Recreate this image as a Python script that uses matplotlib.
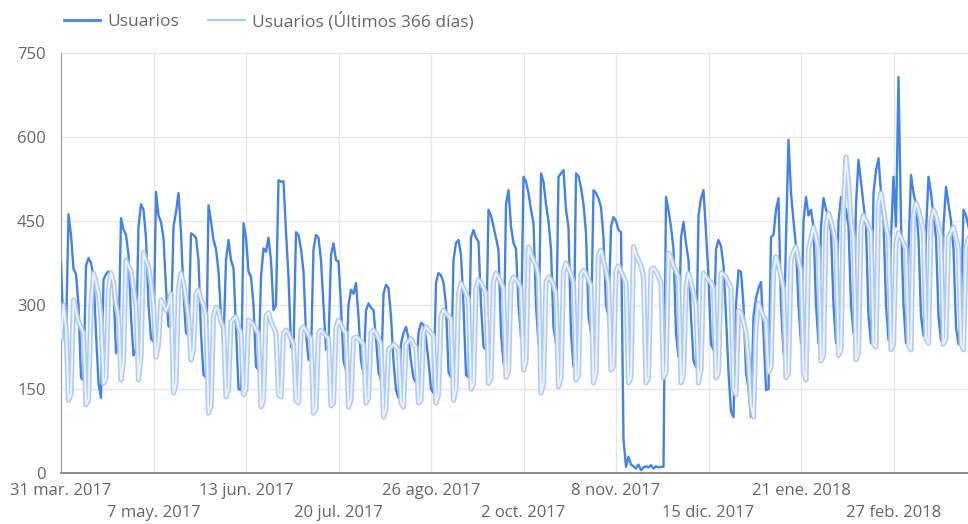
import matplotlib

matplotlib.use("Agg")

import matplotlib.pyplot as plt
import matplotlib.patheffects as pe
from matplotlib.lines import Line2D
import pandas as pd

plt.rcParams["font.family"] = ["Open Sans", "DejaVu Sans"]

START = "2017-03-31"

# Usuarios diarios (31 mar. 2017 -> 30 mar. 2018), una fila por semana (lun..dom)
usuarios = [
    375, 250, 245,
    462, 425, 365, 355, 300, 170, 166,
    370, 384, 375, 350, 250, 160, 134,
    345, 355, 360, 357, 330, 214, 230,
    455, 435, 425, 390, 280, 210, 220,
    440, 480, 470, 420, 300, 240, 234,
    502, 460, 448, 420, 330, 262, 260,
    440, 466, 500, 430, 320, 250, 246,
    428, 425, 420, 380, 250, 175, 171,
    478, 450, 416, 400, 360, 280, 232,
    380, 416, 380, 366, 260, 150, 148,
    446, 420, 360, 350, 300, 190, 184,
    350, 401, 395, 420, 380, 291, 300,
    523, 520, 521, 430, 350, 225, 220,
    430, 425, 400, 360, 250, 202, 210,
    400, 425, 420, 380, 300, 220, 230,
    390, 410, 380, 378, 300, 200, 184,
    300, 327, 320, 339, 280, 200, 178,
    290, 303, 295, 291, 240, 180, 166,
    320, 336, 330, 280, 200, 148, 134,
    230, 250, 261, 240, 200, 170, 161,
    250, 268, 265, 240, 200, 150, 143,
    340, 357, 353, 340, 300, 180, 171,
    380, 411, 416, 390, 300, 175, 171,
    420, 434, 420, 413, 300, 225, 220,
    470, 460, 440, 420, 398, 250, 196,
    480, 505, 440, 411, 400, 300, 243,
    529, 520, 500, 470, 446, 300, 230,
    535, 520, 480, 450, 400, 260, 232,
    529, 535, 541, 470, 439, 250, 190,
    535, 530, 510, 480, 429, 280, 250,
    505, 500, 490, 475, 420, 300, 279,
    440, 457, 450, 434, 430, 60, 11,
    29, 15, 12, 8, 15, 5, 10,
    12, 10, 14, 8, 12, 10, 11,
    11, 493, 470, 439, 400, 250, 207,
    420, 448, 410, 380, 280, 200, 189,
    460, 490, 505, 430, 350, 230, 220,
    400, 416, 405, 370, 280, 180, 110,
    100, 300, 362, 359, 300, 180, 150,
    100, 280, 312, 330, 341, 250, 148,
    150, 421, 425, 470, 491, 300, 214,
    420, 595, 500, 450, 404, 300, 232,
    450, 493, 460, 470, 440, 300, 232,
    440, 491, 470, 460, 430, 300, 232,
    450, 493, 480, 470, 440, 300, 250,
    480, 559, 520, 480, 440, 280, 232,
    500, 540, 562, 500, 450, 300, 237,
    420, 529, 440, 707, 450, 300, 232,
    400, 532, 500, 480, 420, 280, 245,
    430, 529, 500, 460, 420, 280, 237,
    440, 511, 480, 450, 400, 260, 230,
    300, 470, 460, 440, 420,
]

# Usuarios (Últimos 366 días), mismo eje de fechas
usuarios_prev = [
    240, 300, 260,
    130, 140, 309, 290, 270, 260, 250,
    122, 130, 300, 357, 340, 320, 280,
    160, 170, 330, 357, 340, 300, 280,
    166, 200, 380, 370, 360, 330, 300,
    166, 207, 393, 380, 368, 340, 300,
    207, 230, 309, 300, 290, 300, 320,
    143, 160, 330, 357, 340, 310, 280,
    202, 220, 320, 327, 310, 300, 280,
    107, 120, 280, 296, 290, 270, 260,
    136, 150, 270, 275, 279, 260, 250,
    140, 150, 273, 270, 265, 255, 250,
    118, 130, 280, 286, 270, 260, 250,
    140, 136, 250, 255, 250, 240, 230,
    130, 125, 255, 261, 255, 245, 240,
    107, 115, 250, 255, 250, 245, 240,
    120, 125, 260, 273, 265, 255, 250,
    118, 130, 240, 243, 240, 235, 230,
    125, 135, 250, 255, 250, 240, 230,
    100, 115, 220, 225, 230, 225, 220,
    125, 118, 230, 235, 240, 230, 225,
    125, 130, 250, 261, 255, 250, 245,
    125, 140, 280, 291, 285, 280, 275,
    130, 150, 320, 339, 330, 320, 310,
    150, 160, 330, 345, 340, 330, 320,
    160, 170, 340, 357, 350, 340, 330,
    171, 180, 340, 350, 345, 340, 330,
    184, 200, 404, 390, 380, 370, 350,
    143, 160, 340, 350, 345, 335, 320,
    154, 170, 360, 375, 365, 355, 340,
    166, 175, 355, 362, 355, 345, 335,
    161, 180, 390, 398, 380, 360, 340,
    184, 190, 360, 370, 360, 350, 340,
    161, 170, 404, 390, 380, 370, 350,
    161, 170, 362, 366, 360, 350, 340,
    170, 180, 393, 385, 370, 360, 350,
    161, 175, 330, 357, 340, 320, 300,
    161, 184, 357, 350, 345, 340, 330,
    170, 180, 357, 355, 350, 340, 330,
    150, 140, 290, 286, 270, 250, 200,
    120, 100, 260, 303, 290, 280, 270,
    180, 190, 360, 386, 370, 350, 330,
    170, 178, 380, 395, 404, 380, 360,
    180, 166, 400, 420, 439, 420, 400,
    200, 210, 440, 464, 450, 430, 410,
    210, 220, 480, 564, 520, 450, 420,
    202, 215, 440, 460, 450, 440, 430,
    230, 225, 480, 500, 470, 440, 420,
    220, 230, 410, 429, 420, 410, 400,
    230, 220, 460, 482, 470, 450, 430,
    240, 232, 450, 470, 460, 440, 420,
    230, 240, 420, 430, 439, 420, 400,
    230, 220, 400, 420, 410,
]

tick_dates = ["2017-03-31", "2017-05-07", "2017-06-13", "2017-07-20", "2017-08-26",
              "2017-10-02", "2017-11-08", "2017-12-15", "2018-01-21", "2018-02-27"]
tick_labels = ["31 mar. 2017", "7 may. 2017", "13 jun. 2017", "20 jul. 2017", "26 ago. 2017",
               "2 oct. 2017", "8 nov. 2017", "15 dic. 2017", "21 ene. 2018", "27 feb. 2018"]
y_ticks = [0, 150, 300, 450, 600, 750]

DARK = "#4382e6"
LIGHT = "#a9c7f3"
TEXT = "#666666"


def main() -> None:
    fechas = pd.date_range(START, periods=len(usuarios), freq="D")
    ticks = pd.to_datetime(tick_dates)

    fig = plt.figure(figsize=(9.68, 5.24), dpi=100)
    ax = fig.add_axes([61 / 968, 1 - 473 / 524, 1 - 61 / 968, 420 / 524])

    ax.plot(fechas, usuarios, color=DARK, linewidth=1.7, zorder=3)
    ax.plot(fechas, usuarios_prev, color="#edf3fd", linewidth=1.4, zorder=4,
            path_effects=[pe.Stroke(linewidth=3.8, foreground=LIGHT, alpha=0.9), pe.Normal()])

    ax.set_ylim(0, 750)
    ax.set_yticks(y_ticks)
    ax.set_xlim(pd.Timestamp(START), pd.Timestamp(START) + pd.Timedelta(days=362.8))

    ax.set_xticks(ticks[::2])
    ax.set_xticklabels(tick_labels[::2])
    ax.set_xticks(ticks[1::2], minor=True)
    ax.set_xticklabels(tick_labels[1::2], minor=True)

    ax.tick_params(axis="x", which="major", length=0, pad=7, labelsize=12, labelcolor=TEXT)
    ax.tick_params(axis="x", which="minor", length=0, pad=23, labelsize=12, labelcolor=TEXT)
    ax.tick_params(axis="y", length=0, pad=11, labelsize=12, labelcolor=TEXT)

    ax.grid(True, axis="y", color="#e6e6e6", linewidth=1)
    ax.grid(True, axis="x", which="both", color="#e6e6e6", linewidth=1)
    ax.set_axisbelow(True)

    for side in ["top", "right"]:
        ax.spines[side].set_visible(False)
    ax.spines["left"].set_color("#9e9e9e")
    ax.spines["bottom"].set_color("#8a8a8a")
    ax.spines["bottom"].set_linewidth(1.4)

    handles = [Line2D([], [], color=DARK, linewidth=2),
               Line2D([], [], color=LIGHT, linewidth=1.5)]
    fig.legend(handles, ["Usuarios", "Usuarios (Últimos 366 días)"], loc="center left",
               bbox_to_anchor=(48 / 968, 1 - 21 / 524), ncol=2, frameon=False,
               fontsize=12.5, labelcolor=TEXT, handlelength=2.1, handletextpad=0.4,
               columnspacing=1.7)

    fig.savefig("out.png", dpi=100)
    plt.close(fig)


if __name__ == "__main__":
    main()
